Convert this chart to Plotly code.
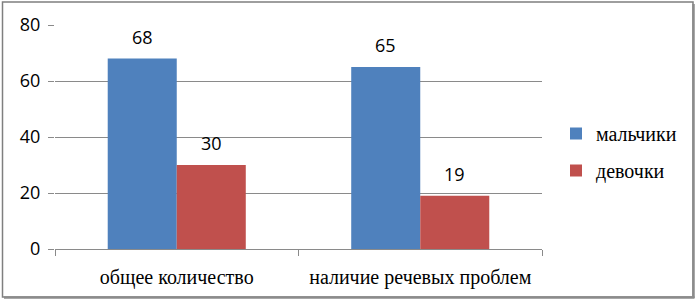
import plotly.graph_objects as go

categories = ["общее количество", "наличие речевых проблем"]
boys = [68, 65]
girls = [30, 19]
series_names = ["мальчики", "девочки"]
y_ticks = [0, 20, 40, 60, 80]

BLUE = "#4F81BD"
RED = "#C0504D"
GRID = "#8A8A8A"
SERIF = "'Liberation Serif', 'Times New Roman', serif"
SANS = "'Open Sans', 'DejaVu Sans', sans-serif"

W, H = 696, 299
L, R, T, B = 55, 154, 25, 50
PW, PH = W - L - R, H - T - B

fig = go.Figure()
fig.add_trace(go.Bar(x=categories, y=boys, name=series_names[0], marker=dict(color=BLUE, line=dict(width=0)),
                     legendgroup="a", hoverinfo="skip"))
fig.add_trace(go.Bar(x=categories, y=girls, name=series_names[1], marker=dict(color=RED, line=dict(width=0)),
                     legendgroup="b", hoverinfo="skip"))

# data labels
cat_px = PW / len(categories)
bargap = 0.433
bar_px = cat_px * (1 - bargap) / 2
for vals, sign in ((boys, -1), (girls, 1)):
    for c, v in zip(categories, vals):
        fig.add_annotation(x=c, y=v, text=str(v), showarrow=False, xref="x", yref="y",
                           xshift=sign * bar_px / 2, yshift=8, yanchor="bottom",
                           font=dict(family=SANS, size=18, color="#000"))

def px(xp):
    return (xp - L) / PW

def py(yp):
    return (H - B - yp) / PH

# outer border with shadow
fig.add_shape(type="rect", xref="paper", yref="paper", x0=px(2.5), x1=px(693), y0=py(2), y1=py(297),
              line=dict(color="#7F7F7F", width=1.5), layer="below")
fig.add_shape(type="line", xref="paper", yref="paper", x0=px(693.5), x1=px(693.5), y0=py(4), y1=py(298),
              line=dict(color="#8C8C8C", width=2.5))
fig.add_shape(type="line", xref="paper", yref="paper", x0=px(4), x1=px(694.5), y0=py(297.5), y1=py(297.5),
              line=dict(color="#8C8C8C", width=2.5))

fig.update_layout(
    width=W, height=H,
    margin=dict(l=L, r=R, t=T, b=B, autoexpand=False),
    paper_bgcolor="white", plot_bgcolor="white",
    barmode="group", bargap=bargap, bargroupgap=0,
    showlegend=True,
    hovermode=False,
    legend=dict(x=px(556), y=py(152), xanchor="left", yanchor="middle",
                font=dict(family=SERIF, size=20, color="#000"),
                traceorder="grouped", tracegroupgap=8, bgcolor="rgba(0,0,0,0)"),
    xaxis=dict(type="category", showline=True, linecolor=GRID, linewidth=1, automargin=False,
               ticks="outside", ticklen=6, tickcolor=GRID, tickson="boundaries",
               tickfont=dict(family=SERIF, size=20, color="#000"),
               ticklabelstandoff=10, showgrid=False),
    yaxis=dict(range=[0, 80], tickvals=y_ticks, showgrid=True, gridcolor=GRID, gridwidth=1, automargin=False,
               showline=False, zeroline=False, ticks="outside", ticklen=6, tickcolor=GRID,
               tickfont=dict(family=SANS, size=18, color="#000"), ticklabelstandoff=4),
)

fig.write_html("out.html", config={"displayModeBar": False},
               post_script="document.body.style.margin='0';document.body.style.overflow='hidden';")
